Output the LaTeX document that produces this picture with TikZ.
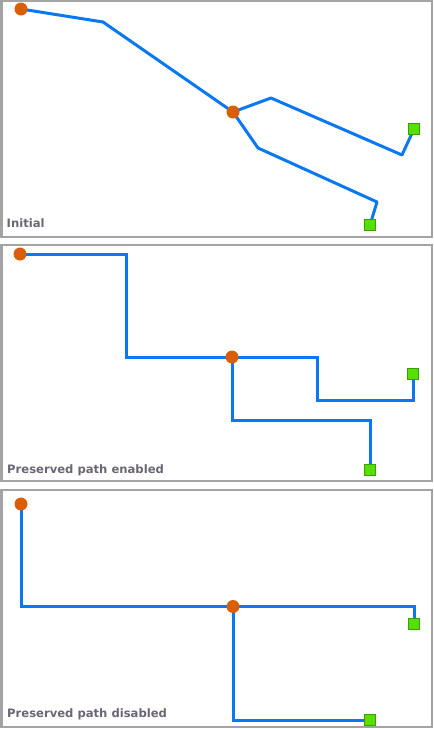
\documentclass[tikz,border=0pt]{standalone}
\usepackage{fontspec}
\setmainfont{DejaVu Sans}
\definecolor{linec}{HTML}{0A78F0}
\definecolor{nodeo}{HTML}{D95E06}
\definecolor{sqf}{HTML}{55E000}
\definecolor{sqd}{HTML}{3C9E0A}
\definecolor{framec}{HTML}{A3A3A3}
\definecolor{labc}{HTML}{6A6674}
\tikzset{
  x=1pt, y=-1pt,
  panel/.style={draw=framec, line width=2.4pt},
  net/.style={draw=linec, line width=3pt, line join=round, line cap=round},
  ortho/.style={net, line join=miter, line cap=butt},
  junc/.style={circle, fill=nodeo, inner sep=0pt, minimum size=13pt},
  term/.style={rectangle, fill=sqf, draw=sqd, line width=0.9pt, inner sep=0pt, minimum size=10.5pt},
  lab/.style={anchor=base west, inner sep=0pt, text=labc, font=\fontsize{11.6}{13}\selectfont\bfseries}
}
\begin{document}
\begin{tikzpicture}
\useasboundingbox (0,0) rectangle (434,729);
\fill[white] (0,0) rectangle (434,729);
% panels
\draw[panel] (1.5,1.2) rectangle (432,237);
\draw[panel] (1.5,245) rectangle (432,481);
\draw[panel] (1.5,490) rectangle (432,727);

% ---------- Panel 1 ----------
\coordinate (a1) at (21,9);
\coordinate (a2) at (103,22);
\coordinate (a3) at (233,112);
\coordinate (b1) at (271,98);
\coordinate (b2) at (402,155);
\coordinate (b3) at (414,129);
\coordinate (c1) at (258,148);
\coordinate (c2) at (377,202);
\coordinate (c3) at (370,225);
\draw[net] (a1) -- (a2) -- (a3) -- (b1) -- (b2) -- (b3);
\draw[net] (a3) -- (c1) -- (c2) -- (c3);
\node[junc] (j1a) at (a1) {};
\node[junc] (j1b) at (a3) {};
\node[term] (t1a) at (b3) {};
\node[term] (t1b) at (c3) {};
\node[lab] (l1) at (6.5,227.5) {Initial};

% ---------- Panel 2 ----------
\coordinate (d1) at (20,254);
\coordinate (d2) at (126,254);
\coordinate (d3) at (126,357);
\coordinate (d4) at (232,357);
\coordinate (e1) at (317,357);
\coordinate (e2) at (317,400);
\coordinate (e3) at (413,400);
\coordinate (e4) at (413,374);
\coordinate (f1) at (232,420);
\coordinate (f2) at (370,420);
\coordinate (f3) at (370,470);
\draw[ortho] (d1) -- (d2) -- (d3) -- (d4) -- (e1) -- (e2) -- (e3) -- (e4);
\draw[ortho] (d4) -- (f1) -- (f2) -- (f3);
\node[junc] (j2a) at (d1) {};
\node[junc] (j2b) at (d4) {};
\node[term] (t2a) at (e4) {};
\node[term] (t2b) at (f3) {};
\node[lab] (l2) at (7,473) {Preserved path enabled};

% ---------- Panel 3 ----------
\coordinate (g1) at (21,504);
\coordinate (g2) at (21,606.5);
\coordinate (g3) at (233,606.5);
\coordinate (h1) at (414,606.5);
\coordinate (h2) at (414,624);
\coordinate (k1) at (233,720);
\coordinate (k2) at (370,720);
\draw[ortho] (g1) -- (g2) -- (g3) -- (h1) -- (h2);
\draw[ortho] (g3) -- (k1) -- (k2);
\node[junc] (j3a) at (g1) {};
\node[junc] (j3b) at (g3) {};
\node[term] (t3a) at (h2) {};
\node[term] (t3b) at (k2) {};
\node[lab] (l3) at (7,717.5) {Preserved path disabled};
\end{tikzpicture}
\end{document}
